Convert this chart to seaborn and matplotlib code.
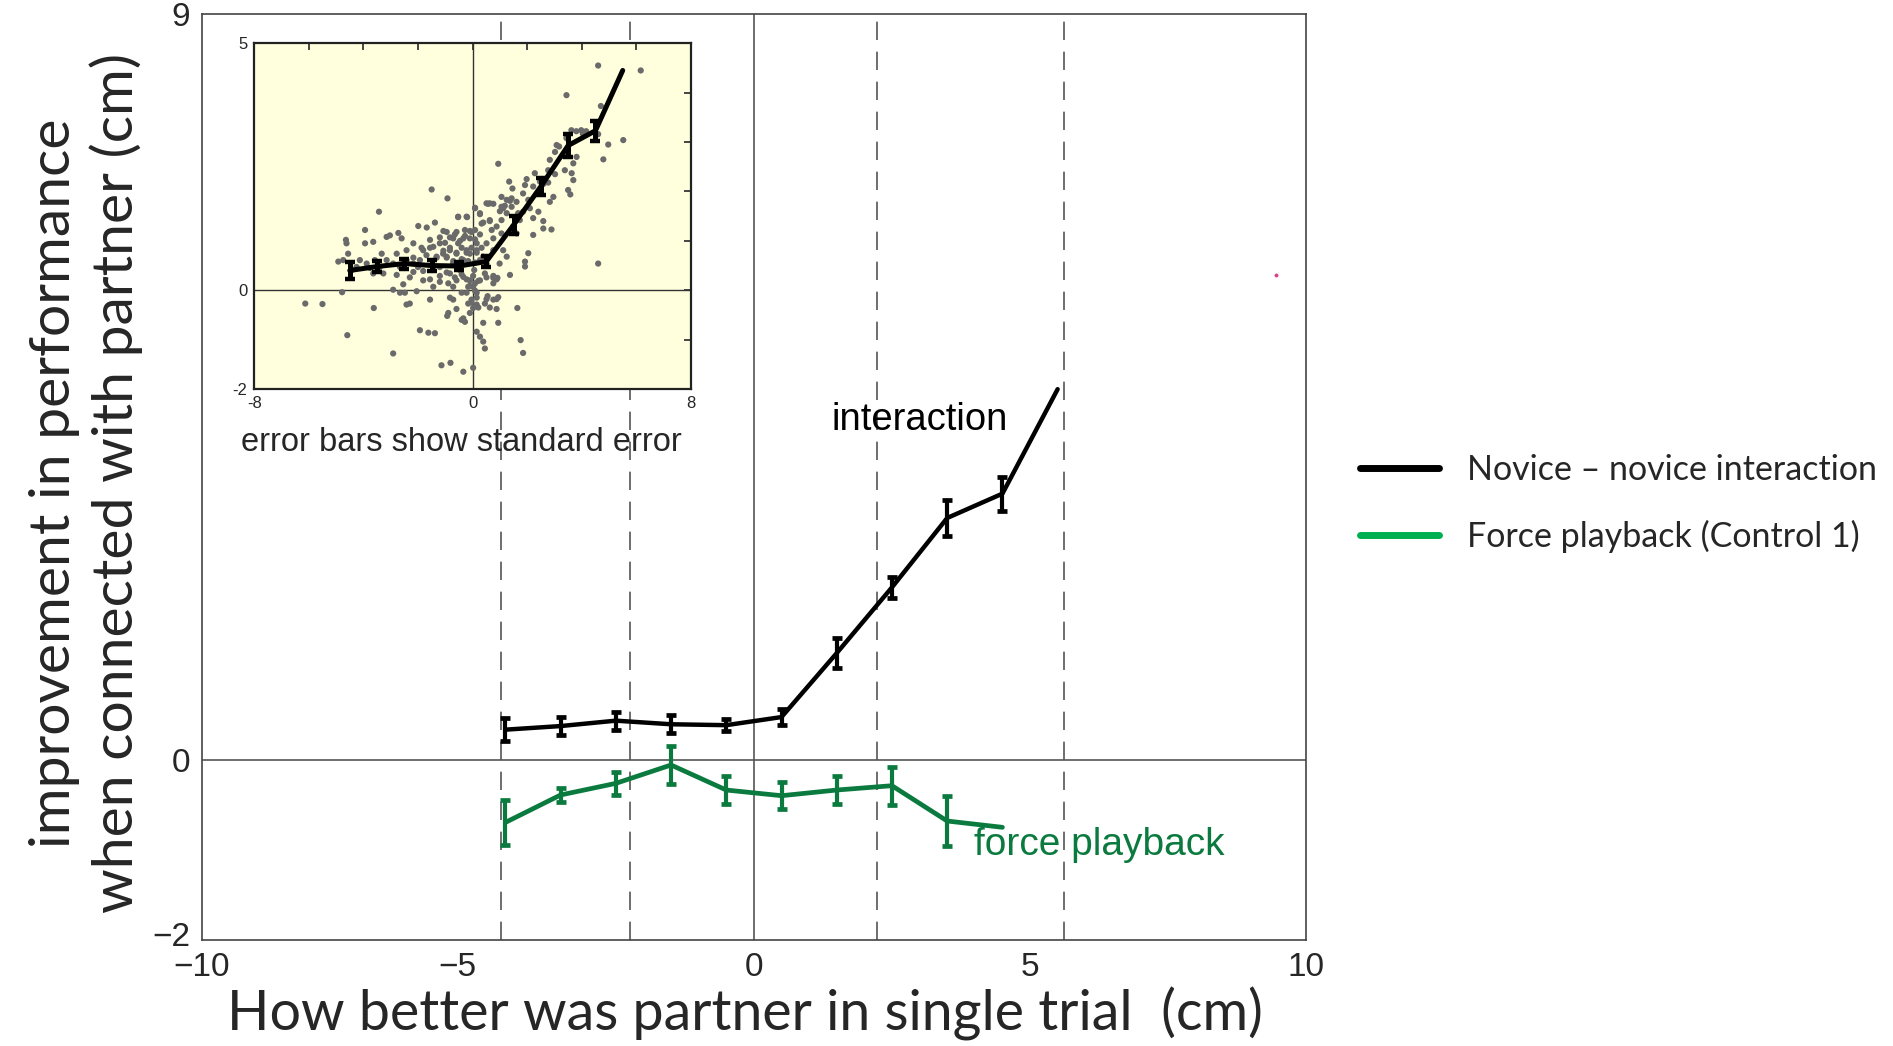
import numpy as np
import pandas as pd
import matplotlib
matplotlib.use("Agg")
import matplotlib.pyplot as plt
import matplotlib.transforms as mtransforms
from matplotlib.lines import Line2D
import seaborn as sns

# ---------------- data ----------------
bin_x = [-4.5, -3.5, -2.5, -1.5, -0.5, 0.5, 1.5, 2.5, 3.5, 4.5]

inter_x = [-4.5, -3.5, -2.5, -1.5, -0.5, 0.5, 1.5, 2.5, 3.5, 4.5, 5.5]
inter_y = [0.34, 0.38, 0.44, 0.40, 0.39, 0.48, 1.19, 1.92, 2.69, 2.96, 4.12]
inter_err = [0.13, 0.10, 0.10, 0.10, 0.07, 0.09, 0.17, 0.12, 0.20, 0.19]

force_x = [-4.5, -3.5, -2.5, -1.5, -0.5, 0.5, 1.5, 2.5, 3.5, 4.5]
force_y = [-0.69, -0.385, -0.256, -0.052, -0.33, -0.393, -0.33, -0.282, -0.674, -0.744]
force_err = [0.25, 0.083, 0.128, 0.209, 0.154, 0.148, 0.16, 0.209, 0.28]

dashed_x = [-4.58, -2.24, 2.23, 5.62]
stray_x = [9.46]
stray_y = [5.39]

x_ticks = [-10, -5.36, 0, 5, 10]
x_ticklabels = ["\u221210", "\u22125", "0", "5", "10"]
y_ticks = [-2, 0, 2, 8.28]
y_ticklabels = ["\u22122", "0", "", "9"]

inset_x = [-4.5, -3.5, -2.5, -1.5, -0.5, 0.5, 1.5, 2.5, 3.5, 4.5, 5.5]
inset_y = [0.40, 0.48, 0.54, 0.50, 0.49, 0.58, 1.32, 2.10, 2.93, 3.23, 4.45]
inset_err = [0.175, 0.12, 0.10, 0.11, 0.075, 0.11, 0.19, 0.17, 0.24, 0.20]

scatter_x = [4.60, 6.16, 3.44, 4.70, 3.62, 3.80, 3.98, 4.16, 4.04, 4.60, 4.97, 5.52, 3.08, 4.79,
             3.32, 3.69, 2.83, 0.94, 2.77, 3.69, 3.50, 3.58, 2.96, 2.83, 2.59, 2.77, 1.98, 1.92,
             1.34, 1.46, 1.85, 2.47, 1.43, 1.06, 0.76, 0.57, 1.12, 2.04, 2.10, 2.41, 2.22, 1.85,
             1.73, 2.59, 2.89, 2.59, 2.22, 2.04, 1.92, 1.92, 4.60, 1.37, 0.76, 0.91, 0.94, 0.76,
             0.45, 1.64, 0.39, 0.94, 0.15, 0.27, 0.39, 0.45, 1.76, 1.85, 0.02, -0.34, -0.81, -1.14,
             -2.91, -1.93, -1.62, -1.38, -4.59, -6.13, -5.50, -4.78, -3.62, -2.42, -2.30, -1.56,
             -0.89, -0.93, -0.40, -0.28, -0.34, -0.16, 0.02, 0.15, -0.10, -2.66, -2.91, -2.05,
             -2.48, -1.50, -0.92, -3.43, -3.94, -2.72, -1.99, -1.38, -0.53, -0.22, 0.09, 0.27,
             0.51, 0.63, -4.64, -4.62, -3.94, -3.64, -4.92, -3.76, -3.64, -3.15, -3.03, -2.60,
             -2.17, -1.56, -1.20, -0.95, -0.71, -0.53, -0.28, -0.10, 0.09, 0.33, 0.63, 0.70,
             0.88, 1.06, 1.25, 1.49, 1.61, 1.06, 0.76, 0.51, 0.76, 1.12, 1.25, 0.99, 0.51, 0.39,
             0.15, -0.10, -0.34, -0.59, -0.83, -1.08, -1.32, -1.69, -1.93, -2.17, -2.42, -2.66,
             -2.91, -3.15, -3.40, -3.88, -4.13, -4.25, -3.27, -2.78, -2.17, -1.44, -0.83, -0.59,
             -0.34, -0.10, 0.02, -0.22, 0.15, -0.04, 0.09, 0.27, -0.71, -0.89, -1.20, -1.44,
             -1.81, -2.00, -0.47, -0.34, -0.59, -0.04, 0.15, 0.27, -0.22, -0.71, -1.20, -0.95,
             -1.44, -1.81, -2.42, -2.78, -3.33, -3.58, -4.56, -4.74, -4.43, -0.71, -0.16, 0.06,
             0.55, 0.76, 0.45, 1.06, 1.43, 1.67, 1.61, 1.25, 2.22, 3.02, 3.81, 3.44, 3.17, 3.63,
             3.38, 3.02, 2.47, 2.28,
             -0.53, -0.20, 0.27, 0.09, 0.39, 0.63, 1.00, 1.18, 1.37, -1.20, -1.01, -0.83, -0.65,
             -0.46, -0.28, -0.10, 0.09, 0.27, -1.07, -0.83, -0.59, -0.40, -0.22, -0.04, 0.15,
             0.33, -0.95, -0.71, -0.40, -0.16, 0.09, -1.20, -0.95, -0.65, -0.40, -0.22, 0.02,
             0.21, 0.51, 0.76, 0.88, -1.81, -1.56, -2.30, -2.54, -0.10, 0.09, 0.15, -0.04, 0.21,
             -0.83, -0.40, 0.51, 0.88, 0.63, 0.88, -0.59, -1.68, -1.87, -2.17, -1.56, -1.32, -1.07]
scatter_y = [4.55, 4.45, 3.95, 3.73, 3.24, 3.22, 3.24, 3.22, 3.17, 3.16, 2.95, 3.04, 2.94, 2.65,
             2.72, 2.57, 2.64, 2.56, 2.43, 2.23, 2.03, 1.94, 1.89, 1.79, 2.15, 2.18, 2.25, 2.13,
             2.20, 2.06, 1.96, 2.00, 1.86, 1.89, 1.75, 1.75, 1.66, 1.83, 1.66, 1.59, 1.46, 1.59,
             1.42, 1.40, 1.23, 1.25, 1.12, 0.75, 0.58, 0.48, 0.54, 0.31, 0.25, 0.25, -0.14, -0.19,
             -0.27, -0.36, -0.66, -0.66, -0.84, -0.94, -1.04, -1.18, -1.01, -1.27, -1.57, -1.65,
             -1.47, -1.52, -1.28, -0.81, -0.86, -0.87, -0.91, -0.27, -0.28, -0.04, -0.36, -0.29,
             -0.27, -0.19, -0.46, -0.52, -0.60, -0.64, -0.57, -0.27, -0.36, -0.29, -0.46, -0.05,
             0.01, -0.02, -0.05, 2.04, 1.86, 1.59, 1.22, 1.16, 1.30, 1.37, 1.49, 1.49, 1.66, 1.56,
             1.76, 1.76, 1.02, 0.95, 0.95, 0.98, 0.58, 0.45, 0.34, 1.08, 1.11, 1.05, 0.95, 1.02,
             0.95, 1.18, 1.05, 0.95, 1.22, 1.05, 1.22, 1.35, 1.42, 1.22, 1.29, 1.42, 1.56, 1.29,
             1.15, 1.15, 1.05, 0.95, 0.81, 0.81, 0.68, 0.54, 0.54, 0.68, 0.81, 0.74, 0.61, 0.74,
             0.81, 0.74, 0.68, 0.71, 0.61, 0.54, 0.61, 0.47, 0.54, 0.61, 0.47, 0.54, 0.61, 0.47,
             0.34, 0.31, 0.37, 0.41, 0.34, 0.20, 0.27, 0.20, 0.07, -0.05, -0.05, -0.19, 0.14,
             0.20, 0.07, 0.14, 0.17, 0.07, 0.20, 0.47, 0.41, 1.05, 1.18, 1.18, 0.95, 0.61, 0.81,
             0.54, 0.47, 0.68, 0.88, 0.81, 0.81, 0.74, 0.74, 0.61, 0.74, 0.61, 0.41, -0.19, 0.07,
             0.41, -0.12, 0.14, 0.34, 1.69, 1.69, 1.56, 1.79, 1.83, 2.10, 2.80, 2.70, 3.08, 2.91,
             2.37, 2.43, 2.35, 2.20, 2.37,
             1.48, 1.48, 1.54, 1.67, 1.37, 1.40, 1.60, 1.71, 1.81, 1.07, 0.96, 1.07, 1.13,
             1.00, 1.10, 1.20, 1.03, 1.13, 0.80, 0.86, 0.76, 0.86, 0.76, 0.86, 0.76,
             0.86, 0.66, 0.59, 0.63, 0.59, 0.56, 0.29, 0.36, 0.26, 0.32, 0.22, 0.29,
             0.19, 0.26, 0.29, 0.22, 0.39, 0.22, 0.26, 0.12, 0.09, -0.01, -0.15, -0.25, -0.35,
             -0.15, -0.05, -0.18, -0.18, -0.35, -0.38, -0.38, 1.27, 0.86, 0.66, 0.86, 0.66, 1.20]

# ---------------- style ----------------
sns.set_style("white")
plt.rcParams["font.family"] = ["Liberation Sans", "DejaVu Sans"]

BLACK = "#000000"
GREEN = "#0B7A3E"
LEG_GREEN = "#00B050"
GRAY = "#555555"

fig = plt.figure(figsize=(18.93, 10.46), dpi=100)
ax = fig.add_axes([0.1065, 0.1009, 0.5835, 0.8853])

ax.set_xlim(-10, 10)
ax.set_ylim(-2, 8.28)

for xv in dashed_x:
    ax.axvline(xv, color=GRAY, lw=1.2, linestyle=(0, (11, 7)), zorder=1)
ax.axvline(0, color=GRAY, lw=1.2, zorder=1)
ax.axhline(0, color=GRAY, lw=1.2, zorder=1)

df_int = pd.DataFrame({"x": inter_x, "y": inter_y})
df_frc = pd.DataFrame({"x": force_x, "y": force_y})
sns.lineplot(data=df_int, x="x", y="y", ax=ax, color=BLACK, lw=3.2, zorder=3, legend=False)
sns.lineplot(data=df_frc, x="x", y="y", ax=ax, color=GREEN, lw=3.4, zorder=3, legend=False)
ax.errorbar(bin_x, inter_y[:len(inter_err)], yerr=inter_err, fmt="none", ecolor=BLACK,
            elinewidth=3.0, capsize=3.8, capthick=3.4, zorder=4)
ax.errorbar(force_x[:len(force_err)], force_y[:len(force_err)], yerr=force_err, fmt="none",
            ecolor=GREEN, elinewidth=3.0, capsize=3.8, capthick=3.4, zorder=4)
ax.plot(stray_x, stray_y, "o", color="#E0408A", ms=1.8, zorder=5)

ax.text(3.0, 3.78, "interaction", fontsize=27.5, ha="center", va="center", color=BLACK)
ax.text(3.99, -0.94, "force playback", fontsize=28, ha="left", va="center", color=GREEN)

ax.set_xticks(x_ticks)
ax.set_xticklabels(x_ticklabels, fontsize=24)
ax.set_yticks(y_ticks)
ax.set_yticklabels(y_ticklabels, fontsize=24)
ax.tick_params(direction="in", length=8, width=1.2, color="#333333", pad=8)
# nudge the bottom y label up a little so it clears the -10 label
ylbls = ax.get_yticklabels()
ylbls[0].set_transform(ylbls[0].get_transform() +
                       mtransforms.ScaledTranslation(0, 0.06, fig.dpi_scale_trans))
ax.set_xlabel("")
ax.set_ylabel("")
for s in ax.spines.values():
    s.set_color("#444444")
    s.set_linewidth(1.2)

fig.text(0.3936, 0.0306, "How better was partner in single trial  (cm)", fontsize=40,
         family=["Lato", "DejaVu Sans"], ha="center", va="center")
fig.text(0.0454, 0.538, "improvement in performance\nwhen connected with partner (cm)",
         fontsize=41, family=["Lato", "DejaVu Sans"], ha="center", va="center",
         rotation=90, linespacing=1.2, multialignment="center")

handles = [Line2D([0], [0], color=BLACK, lw=5), Line2D([0], [0], color=LEG_GREEN, lw=5)]
leg = fig.legend(handles, ["Novice \u2013 novice interaction", "Force playback (Control 1)"],
                 loc="upper left", bbox_to_anchor=(0.7184, 0.566), frameon=False,
                 prop={"family": ["Lato", "DejaVu Sans"], "size": 24.5},
                 handlelength=2.32, handletextpad=0.82, labelspacing=1.0,
                 borderpad=0, borderaxespad=0)

# ---------------- inset ----------------
ins = fig.add_axes([0.1343, 0.6281, 0.2307, 0.3305])
ins.set_facecolor("#FFFFDD")
ins.set_xlim(-8, 8)
ins.set_ylim(-2, 5)
ins.axvline(0, color="#333333", lw=1.0, zorder=1)
ins.axhline(0, color="#333333", lw=1.0, zorder=1)
df_sc = pd.DataFrame({"x": scatter_x, "y": scatter_y})
sns.scatterplot(data=df_sc, x="x", y="y", ax=ins, color="#6A6A6A", s=20, edgecolor="none",
                zorder=2, legend=False)
df_in = pd.DataFrame({"x": inset_x, "y": inset_y})
sns.lineplot(data=df_in, x="x", y="y", ax=ins, color=BLACK, lw=3.6, zorder=3, legend=False)
ins.errorbar(bin_x, inset_y[:len(inset_err)], yerr=inset_err, fmt="none", ecolor=BLACK,
             elinewidth=3.6, capsize=3.5, capthick=3.2, zorder=4)
ins.set_xticks(list(range(-8, 9, 2)))
ins.set_xticklabels(["-8", "", "", "", "0", "", "", "", "8"], fontsize=12)
ins.set_yticks(list(range(-2, 6)))
ins.set_yticklabels(["-2", "", "0", "", "", "", "", "5"], fontsize=12)
ins.tick_params(direction="in", length=5, width=1.2, top=True, right=True, pad=5)
ins.set_xlabel("")
ins.set_ylabel("")
for s in ins.spines.values():
    s.set_color("#222222")
    s.set_linewidth(1.6)

fig.text(0.2435, 0.5774, "error bars show standard error", fontsize=23.5,
         ha="center", va="center")

fig.savefig("out.png", dpi=100)
